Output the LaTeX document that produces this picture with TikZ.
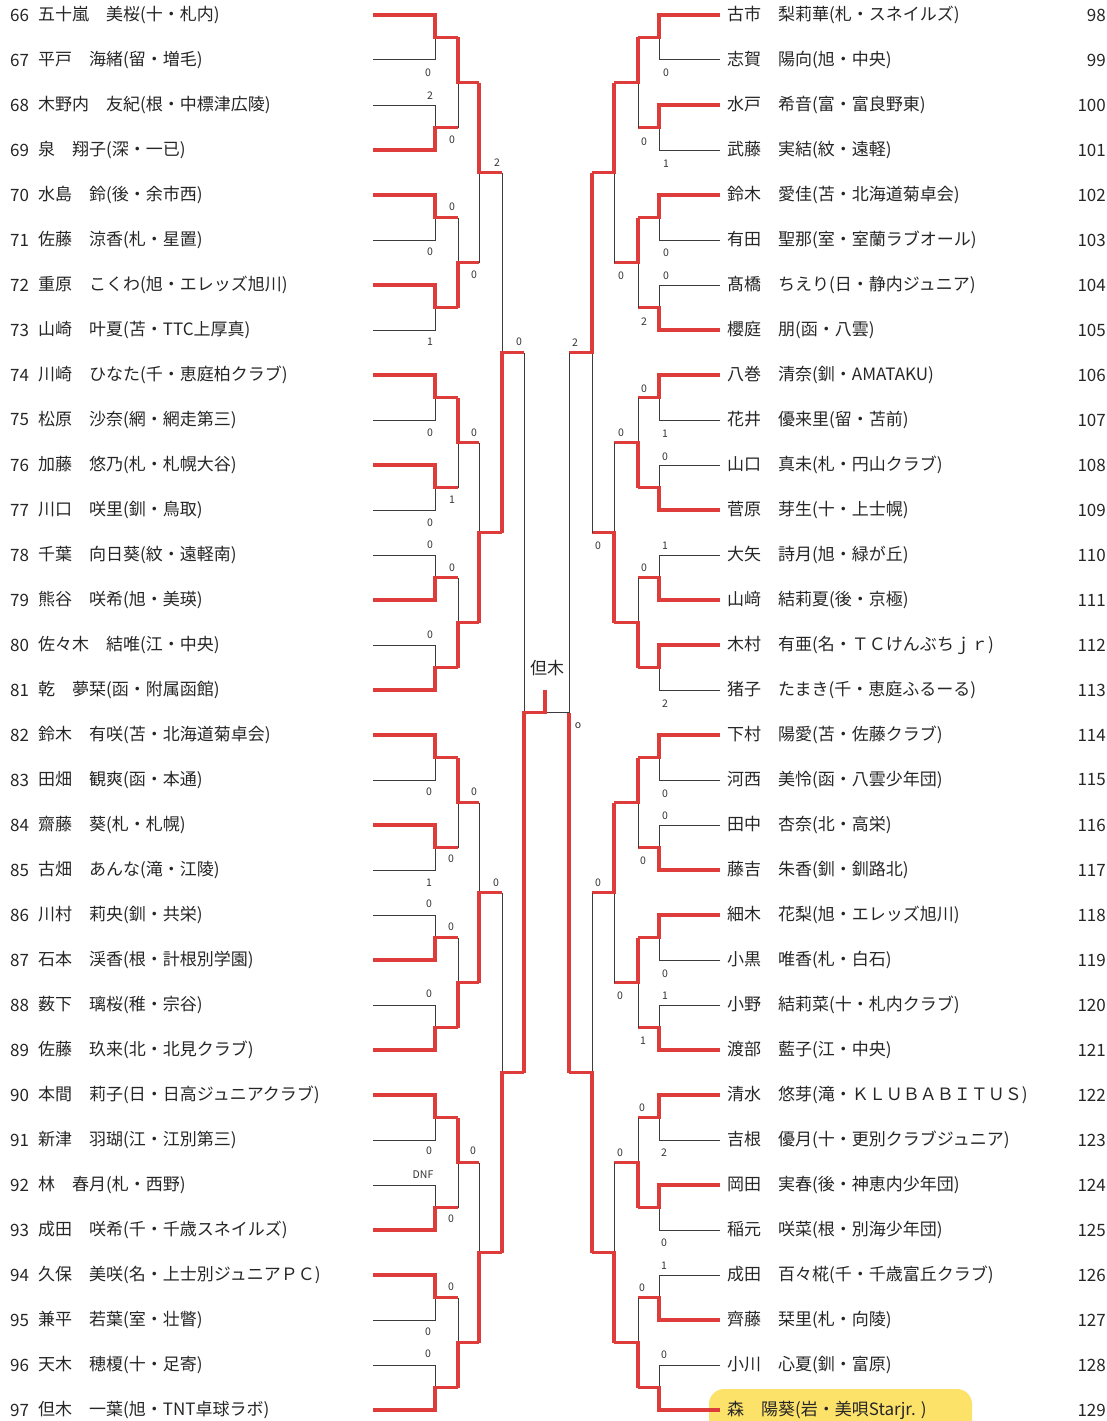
\documentclass[tikz,border=0pt]{standalone}
\usepackage{fontspec}
\newfontfamily\jpfont{Noto Sans CJK JP}
\definecolor{bracketred}{HTML}{DE3B3B}
\definecolor{bracketgray}{HTML}{3C3C3C}
\definecolor{markyellow}{HTML}{FDE26A}
\begin{document}
\begin{tikzpicture}[x=1pt,y=-1pt,
    winline/.style={bracketred,line width=3.3pt},
    loseline/.style={bracketgray,line width=1pt},
    entry/.style={inner sep=0,text=black!85,font=\jpfont\fontsize{17}{19}\selectfont},
    score/.style={inner sep=0,text=black!80,font=\jpfont\fontsize{10.5}{11}\selectfont}]
  \path[use as bounding box] (0,0) rectangle (1107,1421);
  \begin{scope}
    \clip (0,0) rectangle (1107,1421);
    \fill[markyellow,rounded corners=15pt] (709,1389) rectangle (972,1450);
  \end{scope}
  \foreach \num/\txt [count=\i from 0] in {66/五十嵐　美桜(十・札内),
      67/平戸　海緒(留・増毛),68/木野内　友紀(根・中標津広陵),69/泉　翔子(深・一已),
      70/水島　鈴(後・余市西),71/佐藤　涼香(札・星置),72/重原　こくわ(旭・エレッズ旭川),
      73/山崎　叶夏(苫・TTC上厚真),74/川崎　ひなた(千・恵庭柏クラブ),75/松原　沙奈(網・網走第三),
      76/加藤　悠乃(札・札幌大谷),77/川口　咲里(釧・鳥取),78/千葉　向日葵(紋・遠軽南),
      79/熊谷　咲希(旭・美瑛),80/佐々木　結唯(江・中央),81/乾　夢栞(函・附属函館),
      82/鈴木　有咲(苫・北海道菊卓会),83/田畑　観爽(函・本通),84/齋藤　葵(札・札幌),
      85/古畑　あんな(滝・江陵),86/川村　莉央(釧・共栄),87/石本　渓香(根・計根別学園),
      88/薮下　璃桜(稚・宗谷),89/佐藤　玖来(北・北見クラブ),90/本間　莉子(日・日高ジュニアクラブ),
      91/新津　羽瑚(江・江別第三),92/林　春月(札・西野),93/成田　咲希(千・千歳スネイルズ),
      94/久保　美咲(名・上士別ジュニアＰＣ),95/兼平　若葉(室・壮瞥),96/天木　穂榎(十・足寄),
      97/但木　一葉(旭・TNT卓球ラボ)}{
    \pgfmathsetmacro\y{15+45*\i}
    \node[entry,anchor=west] (ln\num) at (10,\y) {\num};
    \node[entry,anchor=west] (l\num) at (38,\y) {\txt};
  }
  \foreach \num/\txt [count=\i from 0] in {98/古市　梨莉華(札・スネイルズ),
      99/志賀　陽向(旭・中央),100/水戸　希音(富・富良野東),101/武藤　実結(紋・遠軽),
      102/鈴木　愛佳(苫・北海道菊卓会),103/有田　聖那(室・室蘭ラブオール),104/髙橋　ちえり(日・静内ジュニア),
      105/櫻庭　朋(函・八雲),106/八巻　清奈(釧・AMATAKU),107/花井　優来里(留・苫前),
      108/山口　真未(札・円山クラブ),109/菅原　芽生(十・上士幌),110/大矢　詩月(旭・緑が丘),
      111/山﨑　結莉夏(後・京極),112/木村　有亜(名・ＴＣけんぶちｊｒ),113/猪子　たまき(千・恵庭ふるーる),
      114/下村　陽愛(苫・佐藤クラブ),115/河西　美怜(函・八雲少年団),116/田中　杏奈(北・高栄),
      117/藤吉　朱香(釧・釧路北),118/細木　花梨(旭・エレッズ旭川),119/小黒　唯香(札・白石),
      120/小野　結莉菜(十・札内クラブ),121/渡部　藍子(江・中央),122/清水　悠芽(滝・ＫＬＵＢＡＢＩＴＵＳ),
      123/吉根　優月(十・更別クラブジュニア),124/岡田　実春(後・神恵内少年団),125/稲元　咲菜(根・別海少年団),
      126/成田　百々椛(千・千歳富丘クラブ),127/齊藤　栞里(札・向陵),128/小川　心夏(釧・富原),
      129/森　陽葵(岩・美唄Starjr. )}{
    \pgfmathsetmacro\y{15+45*\i}
    \node[entry,anchor=west] (r\num) at (727,\y) {\txt};
    \node[entry,anchor=east] (rn\num) at (1106,\y) {\num};
  }
  \foreach \xa/\xb/\xc/\k/\wins in {373/435/458/1/{0,1,0,0,0,0,1,1,0,0,1,1,0,1,0,1},
      435/458/479/2/{0,1,0,1,0,1,0,1},458/479/502/3/{0,1,1,1},479/502/524/4/{1,1},
      720/659/638/1/{0,0,0,1,0,1,1,0,0,1,0,1,0,0,1,1},
      659/638/614/2/{0,0,1,1,0,0,1,1},638/614/592/3/{0,1,0,1},614/592/569/4/{0,1}}{
    \foreach \w [count=\m from 0] in \wins {
      \pgfmathsetmacro\ya{15+45*(\m*2^\k+(2^(\k-1)-1)/2)}
      \pgfmathsetmacro\yb{\ya+45*2^(\k-1)}
      \pgfmathsetmacro\ym{(\ya+\yb)/2}
      \pgfmathsetmacro\yw{\w==0 ? \ya : \yb}
      \pgfmathsetmacro\yl{\w==0 ? \yb : \ya}
      \ifnum\k=1
        \draw[loseline] (\xa,\yl) -- (\xb,\yl) -- (\xb,\ym);
        \draw[winline] (\xa,\yw) -- (\xb,\yw) -- (\xb,\ym) -- (\xc,\ym);
      \else
        \draw[loseline] (\xb,\yl) -- (\xb,\ym);
        \draw[winline] (\xb,\yw) -- (\xb,\ym) -- (\xc,\ym);
      \fi
    }
  }
  \draw[loseline] (524,352.5) -- (524,712.5);
  \draw[loseline] (569,352.5) -- (569,712.5) -- (545,712.5);
  \draw[winline] (524,1072.5) -- (524,712.5) -- (545,712.5) -- (545,690);
  \draw[winline] (569,1072.5) -- (569,712.5);
  \node[entry] (champ) at (547,668) {但木};
  \foreach \x/\y/\s [count=\j] in {428/73/0,430/96/2,452/140/0,497/163/2,452/207/0,
      430/252/0,474/275/0,430/342/1,519/342/0,430/433/0,474/433/0,452/500/1,430/523/0,
      430/545/0,452/568/0,430/635/0,429/792/0,474/792/0,451/859/0,429/883/1,496/883/0,
      429/904/0,451/927/0,429/994/0,429/1151/0,473/1151/0,423/1175/DNF,451/1219/0,
      451/1287/0,428/1332/0,428/1354/0,
      666/73/0,644/142/0,666/164/1,666/253/0,621/276/0,666/276/0,644/322/2,575/343/2,
      644/389/0,621/433/0,665/434/1,665/457/0,598/546/0,665/546/1,644/568/0,665/704/2,
      578/726/o,665/794/0,665/816/0,643/861/0,598/883/0,665/974/0,620/996/0,665/996/1,
      643/1041/1,642/1108/0,620/1153/0,664/1153/2,664/1243/0,664/1266/1,642/1288/0,
      664/1355/0}{
    \node[score] (sc\j) at (\x,\y) {\s};
  }
\end{tikzpicture}
\end{document}
